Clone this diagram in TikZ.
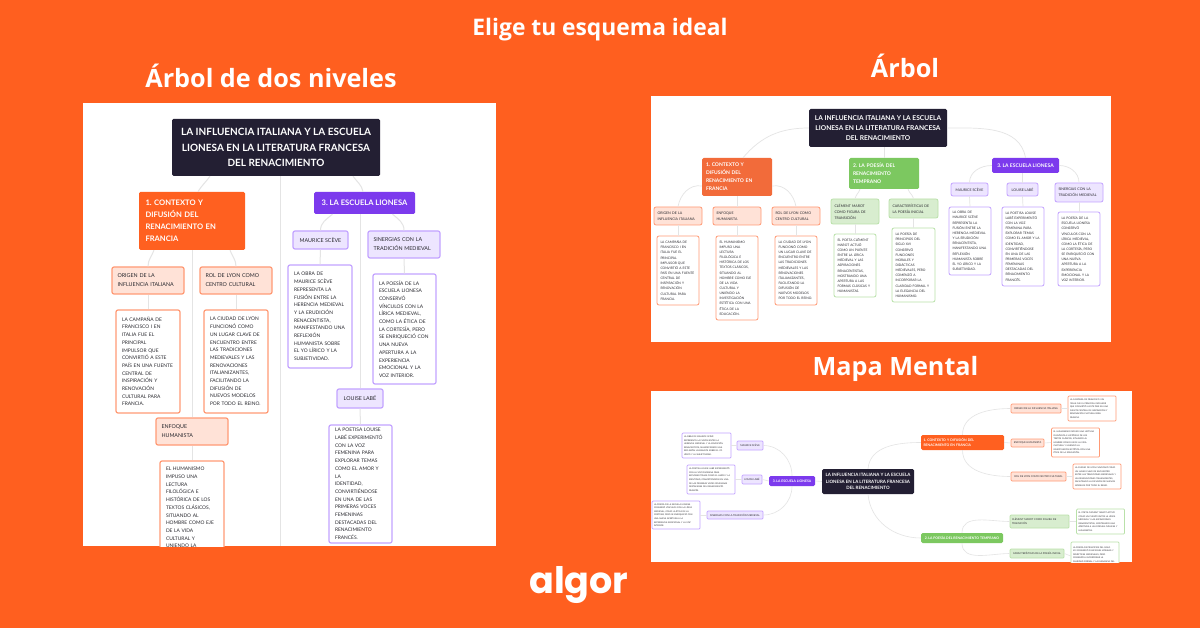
\documentclass[tikz,border=0pt]{standalone}
\usepackage{fontspec}
\setmainfont{Lato}
\newfontfamily\logofont{Poppins}
\newfontfamily\titlefont{Open Sans}
\usetikzlibrary{positioning,calc}
\definecolor{algorbg}{HTML}{FF5F1F}
\definecolor{rootdark}{HTML}{231F33}
\definecolor{orangemain}{HTML}{FF6020}
\definecolor{orangesoft}{HTML}{F26B3A}
\definecolor{orangefill}{HTML}{FFE2D7}
\definecolor{orangeline}{HTML}{FF9A75}
\definecolor{greenmain}{HTML}{7CC860}
\definecolor{greenfill}{HTML}{D8EDCF}
\definecolor{greenline}{HTML}{B9E1A9}
\definecolor{purplemain}{HTML}{7C3AED}
\definecolor{purplefill}{HTML}{EDE5FF}
\definecolor{purpleline}{HTML}{C3A3FF}
\definecolor{linkgrey}{HTML}{E4E4E4}
\definecolor{leaftext}{HTML}{2A2A30}
\frenchspacing

\begin{document}
\begin{tikzpicture}[
    x=1pt, y=-1pt,
    title/.style={text=white, font=\titlefont\bfseries\fontsize{25.2}{29}\selectfont, inner sep=0, anchor=base},
    panel/.style={fill=white, draw=none},
    rootbox/.style={fill=rootdark, text=white, rootsize, align=center, inner sep=0, rounded corners=1.5pt},
    mainbox/.style={text=white, mainsize, align=left, inner sep=0, rounded corners=1.5pt},
    subbox/.style={text=leaftext, subsize, align=left, inner sep=0, line width=1.2pt, rounded corners=2pt},
    leafbox/.style={text=leaftext, fill=white, leafsize, align=left, inner sep=0, line width=1.2pt, rounded corners=2pt},
    omain/.style={mainbox, fill=orangemain},
    gmain/.style={mainbox, fill=greenmain},
    pmain/.style={mainbox, fill=purplemain},
    osub/.style={subbox, draw=orangeline, fill=orangefill},
    gsub/.style={subbox, draw=greenline, fill=greenfill},
    psub/.style={subbox, draw=purpleline, fill=purplefill},
    oleaf/.style={leafbox, draw=orangeline},
    gleaf/.style={leafbox, draw=greenline},
    pleaf/.style={leafbox, draw=purpleline},
    link/.style={draw=linkgrey, line width=1pt},
]
\useasboundingbox (0,0) rectangle (1200,628);
\fill[algorbg] (0,0) rectangle (1200,628);

\node[title, font=\titlefont\bfseries\fontsize{22.8}{26}\selectfont] (heading) at (600,35.7) {Elige tu esquema ideal};
\node[title] (titleA) at (271,87.7) {Árbol de dos niveles};
\node[title] (titleB) at (905,78) {Árbol};
\node[title] (titleC) at (895.5,375) {Mapa Mental};
\node[text=white, font=\logofont\bfseries\fontsize{36.5}{40}\selectfont, inner sep=0] (logo) at (579,585) {algor};

% two level tree
\begin{scope}[
    rootsize/.style={font=\fontsize{10}{15.3}\selectfont\bfseries},
    mainsize/.style={font=\fontsize{7.6}{12}\selectfont\bfseries},
    subsize/.style={font=\fontsize{5.35}{9}\selectfont},
    leafsize/.style={font=\fontsize{4.9}{7.7}\selectfont},
    mainbox/.append style={inner xsep=6.5pt},
    subbox/.append style={inner xsep=5.5pt},
    leafbox/.append style={inner xsep=6pt},
]
\fill[panel] (83,103) rectangle (496,546);
\clip (83,103) rectangle (496,546);
\coordinate (aEnd) at (280,546);
\node[rootbox, minimum width=208pt, minimum height=57pt] (aRoot) at (276,147.5) {LA INFLUENCIA ITALIANA Y LA ESCUELA\\LIONESA EN LA LITERATURA FRANCESA\\DEL RENACIMIENTO};
\node[omain, text width=93pt, minimum height=58pt] (aOne) at (192,221) {1. CONTEXTO Y\\DIFUSIÓN DEL\\RENACIMIENTO EN\\FRANCIA};
\node[pmain, minimum width=101pt, minimum height=22pt, align=center] (aThree) at (364.5,203) {3. LA ESCUELA LIONESA};
\node[osub, text width=61pt, minimum height=27pt] (aOrigen) at (148,280.5) {ORIGEN DE LA\\INFLUENCIA ITALIANA};
\node[osub, text width=61pt, minimum height=27pt] (aRol) at (236,280.5) {ROL DE LYON COMO\\CENTRO CULTURAL};
\node[osub, text width=61pt, minimum height=27pt] (aEnfoque) at (192,431.5) {ENFOQUE\\HUMANISTA};
\node[oleaf, text width=52pt, minimum height=103pt] (aCampana) at (148,361.5) {LA CAMPAÑA DE\\FRANCISCO I EN\\ITALIA FUE EL\\PRINCIPAL\\IMPULSOR QUE\\CONVIRTIÓ A ESTE\\PAÍS EN UNA FUENTE\\CENTRAL DE\\INSPIRACIÓN Y\\RENOVACIÓN\\CULTURAL PARA\\FRANCIA.};
\node[oleaf, text width=52pt, minimum height=103pt] (aCiudad) at (236,361.5) {LA CIUDAD DE LYON\\FUNCIONÓ COMO\\UN LUGAR CLAVE DE\\ENCUENTRO ENTRE\\LAS TRADICIONES\\MEDIEVALES Y LAS\\RENOVACIONES\\ITALIANIZANTES,\\FACILITANDO LA\\DIFUSIÓN DE\\NUEVOS MODELOS\\POR TODO EL REINO.};
\node[oleaf, text width=52pt, minimum height=124pt] (aHumanismo) at (192,523) {EL HUMANISMO\\IMPUSO UNA\\LECTURA\\FILOLÓGICA E\\HISTÓRICA DE LOS\\TEXTOS CLÁSICOS,\\SITUANDO AL\\HOMBRE COMO EJE\\DE LA VIDA\\CULTURAL Y\\UNIENDO LA\\INVESTIGACIÓN\\ESTÉTICA CON UNA\\ÉTICA DE LA\\EDUCACIÓN.};
\node[psub, minimum width=55pt, minimum height=18pt, align=center] (aMaurice) at (320.5,240) {MAURICE SCÈVE};
\node[psub, text width=61pt, minimum height=27pt] (aSinergias) at (404,244.5) {SINERGIAS CON LA\\TRADICIÓN MEDIEVAL};
\node[psub, minimum width=46pt, minimum height=19pt, align=center] (aLouise) at (360,398.5) {LOUISE LABÉ};
\node[pleaf, text width=52pt, minimum height=103pt] (aObra) at (320,316.5) {LA OBRA DE\\MAURICE SCÈVE\\REPRESENTA LA\\FUSIÓN ENTRE LA\\HERENCIA MEDIEVAL\\Y LA ERUDICIÓN\\RENACENTISTA,\\MANIFESTANDO UNA\\REFLEXIÓN\\HUMANISTA SOBRE\\EL YO LÍRICO Y LA\\SUBJETIVIDAD.};
\node[pleaf, text width=51pt, minimum height=110pt] (aPoesia) at (404.5,329) {LA POESÍA DE LA\\ESCUELA LIONESA\\CONSERVÓ\\VÍNCULOS CON LA\\LÍRICA MEDIEVAL,\\COMO LA ÉTICA DE\\LA CORTESÍA, PERO\\SE ENRIQUECIÓ CON\\UNA NUEVA\\APERTURA A LA\\EXPERIENCIA\\EMOCIONAL Y LA\\VOZ INTERIOR.};
\node[pleaf, text width=51pt, minimum height=118pt] (aPoetisa) at (360.5,484) {LA POETISA LOUISE\\LABÉ EXPERIMENTÓ\\CON LA VOZ\\FEMENINA PARA\\EXPLORAR TEMAS\\COMO EL AMOR Y LA\\IDENTIDAD,\\CONVIRTIÉNDOSE\\EN UNA DE LAS\\PRIMERAS VOCES\\FEMENINAS\\DESTACADAS DEL\\RENACIMIENTO\\FRANCÉS.};
\draw[link] ([xshift=-66pt]aRoot.south) to[out=-125,in=60] ([xshift=6pt]aOne.north);
\draw[link] ([xshift=77pt]aRoot.south) to[out=-55,in=100] ([xshift=-1.5pt]aThree.north);
\draw[link] (aRoot.south -| aEnd) -- (aEnd);
\draw[link] ([xshift=-38pt]aOne.south) to[out=-110,in=90] (aOrigen.north);
\draw[link] ([xshift=38pt]aOne.south) to[out=-70,in=90] (aRol.north);
\draw[link] (aOne.south) -- (aEnfoque.north);
\draw[link] (aOrigen.south) -- (aCampana.north);
\draw[link] (aRol.south) -- (aCiudad.north);
\draw[link] (aEnfoque.south) -- (aHumanismo.north);
\draw[link] ([xshift=-32pt]aThree.south) to[out=-140,in=90] (aMaurice.north);
\draw[link] ([xshift=28pt]aThree.south) to[out=-40,in=90] (aSinergias.north);
\draw[link] (aThree.south -| aLouise) -- (aLouise.north);
\draw[link] (aMaurice.south) -- (aObra.north);
\draw[link] (aSinergias.south) -- (aPoesia.north);
\draw[link] (aLouise.south) -- (aPoetisa.north);
\end{scope}

% tree
\begin{scope}[
    rootsize/.style={font=\fontsize{6.65}{10.3}\selectfont\bfseries},
    mainsize/.style={font=\fontsize{5}{8}\selectfont\bfseries},
    subsize/.style={font=\fontsize{3.55}{5.9}\selectfont},
    leafsize/.style={font=\fontsize{3.26}{5.15}\selectfont},
    mainbox/.append style={inner xsep=4pt},
    subbox/.append style={line width=.8pt, inner xsep=3.5pt},
    leafbox/.append style={line width=.8pt, inner xsep=3.5pt},
    link/.append style={line width=.7pt},
]
\fill[panel] (651,96) rectangle (1111,342);
\node[rootbox, minimum width=138pt, minimum height=38pt] (bRoot) at (878,128) {LA INFLUENCIA ITALIANA Y LA ESCUELA\\LIONESA EN LA LITERATURA FRANCESA\\DEL RENACIMIENTO};
\node[omain, fill=orangesoft, text width=62pt, minimum height=38pt] (bOne) at (737,177) {1. CONTEXTO Y\\DIFUSIÓN DEL\\RENACIMIENTO EN\\FRANCIA};
\node[gmain, text width=62pt, minimum height=31pt] (bTwo) at (884,173.5) {2. LA POESÍA DEL\\RENACIMIENTO\\TEMPRANO};
\node[pmain, minimum width=67pt, minimum height=15pt, align=center] (bThree) at (1025.5,165.5) {3. LA ESCUELA LIONESA};
\node[osub, text width=41pt, minimum height=18pt] (bOrigen) at (678,216) {ORIGEN DE LA\\INFLUENCIA ITALIANA};
\node[osub, text width=41pt, minimum height=18pt] (bEnfoque) at (737,216) {ENFOQUE\\HUMANISTA};
\node[osub, text width=41pt, minimum height=18pt] (bRol) at (796,216) {ROL DE LYON COMO\\CENTRO CULTURAL};
\node[oleaf, text width=35pt, minimum height=69pt] (bCampana) at (678,270.5) {LA CAMPAÑA DE\\FRANCISCO I EN\\ITALIA FUE EL\\PRINCIPAL\\IMPULSOR QUE\\CONVIRTIÓ A ESTE\\PAÍS EN UNA FUENTE\\CENTRAL DE\\INSPIRACIÓN Y\\RENOVACIÓN\\CULTURAL PARA\\FRANCIA.};
\node[oleaf, text width=35pt, minimum height=84pt] (bHumanismo) at (737,278) {EL HUMANISMO\\IMPUSO UNA\\LECTURA\\FILOLÓGICA E\\HISTÓRICA DE LOS\\TEXTOS CLÁSICOS,\\SITUANDO AL\\HOMBRE COMO EJE\\DE LA VIDA\\CULTURAL Y\\UNIENDO LA\\INVESTIGACIÓN\\ESTÉTICA CON UNA\\ÉTICA DE LA\\EDUCACIÓN.};
\node[oleaf, text width=35pt, minimum height=69pt] (bCiudad) at (796,270.5) {LA CIUDAD DE LYON\\FUNCIONÓ COMO\\UN LUGAR CLAVE DE\\ENCUENTRO ENTRE\\LAS TRADICIONES\\MEDIEVALES Y LAS\\RENOVACIONES\\ITALIANIZANTES,\\FACILITANDO LA\\DIFUSIÓN DE\\NUEVOS MODELOS\\POR TODO EL REINO.};
\node[gsub, text width=41pt, minimum height=25pt] (bClement) at (855,211.5) {CLÉMENT MAROT\\COMO FIGURA DE\\TRANSICIÓN};
\node[gsub, text width=42pt, minimum height=19pt] (bCaract) at (913.5,208.5) {CARACTERÍSTICAS DE\\LA POESÍA INICIAL};
\node[gleaf, text width=35pt, minimum height=63pt] (bPoeta) at (855,265.5) {EL POETA CLÉMENT\\MAROT ACTUÓ\\COMO UN PUENTE\\ENTRE LA LÍRICA\\MEDIEVAL Y LAS\\ASPIRACIONES\\RENACENTISTAS,\\MOSTRANDO UNA\\APERTURA A LAS\\FORMAS CLÁSICAS Y\\HUMANISTAS.};
\node[gleaf, text width=36pt, minimum height=74pt] (bInicial) at (913.5,265) {LA POESÍA DE\\PRINCIPIOS DEL\\SIGLO XVI\\CONSERVÓ\\FUNCIONES\\MORALES Y\\DIDÁCTICAS\\MEDIEVALES, PERO\\COMENZÓ A\\INCORPORAR LA\\CLARIDAD FORMAL Y\\LA ELEGANCIA DEL\\HUMANISMO.};
\node[psub, minimum width=37pt, minimum height=13pt, align=center] (bMaurice) at (969.5,189.5) {MAURICE SCÈVE};
\node[psub, minimum width=31pt, minimum height=13pt, align=center] (bLouise) at (1022.5,189.5) {LOUISE LABÉ};
\node[psub, text width=41pt, minimum height=19pt] (bSinergias) at (1079,192.5) {SINERGIAS CON LA\\TRADICIÓN MEDIEVAL};
\node[pleaf, text width=35pt, minimum height=68pt] (bObra) at (970,241) {LA OBRA DE\\MAURICE SCÈVE\\REPRESENTA LA\\FUSIÓN ENTRE LA\\HERENCIA MEDIEVAL\\Y LA ERUDICIÓN\\RENACENTISTA,\\MANIFESTANDO UNA\\REFLEXIÓN\\HUMANISTA SOBRE\\EL YO LÍRICO Y LA\\SUBJETIVIDAD.};
\node[pleaf, text width=35pt, minimum height=79pt] (bPoetisa) at (1023,246.5) {LA POETISA LOUISE\\LABÉ EXPERIMENTÓ\\CON LA VOZ\\FEMENINA PARA\\EXPLORAR TEMAS\\COMO EL AMOR Y LA\\IDENTIDAD,\\CONVIRTIÉNDOSE\\EN UNA DE LAS\\PRIMERAS VOCES\\FEMENINAS\\DESTACADAS DEL\\RENACIMIENTO\\FRANCÉS.};
\node[pleaf, text width=35pt, minimum height=74pt] (bPoesia) at (1079,249) {LA POESÍA DE LA\\ESCUELA LIONESA\\CONSERVÓ\\VÍNCULOS CON LA\\LÍRICA MEDIEVAL,\\COMO LA ÉTICA DE\\LA CORTESÍA, PERO\\SE ENRIQUECIÓ CON\\UNA NUEVA\\APERTURA A LA\\EXPERIENCIA\\EMOCIONAL Y LA\\VOZ INTERIOR.};
\draw[link] (bRoot.west) to[out=180,in=50] ([xshift=6pt]bOne.north);
\draw[link] (bRoot.south -| bTwo) -- (bTwo.north);
\draw[link] (bRoot.east) to[out=0,in=100] (bThree.north);
\draw[link] ([yshift=-9pt]bOne.west) to[out=170,in=80] (bOrigen.north);
\draw[link] (bOne.south) -- (bEnfoque.north);
\draw[link] ([yshift=-9pt]bOne.east) to[out=10,in=100] (bRol.north);
\draw[link] (bOrigen.south) -- (bCampana.north);
\draw[link] (bEnfoque.south) -- (bHumanismo.north);
\draw[link] (bRol.south) -- (bCiudad.north);
\draw[link] ([xshift=-24pt]bTwo.south) to[out=-110,in=75] (bClement.north);
\draw[link] ([xshift=24pt]bTwo.south) to[out=-70,in=105] (bCaract.north);
\draw[link] (bClement.south) -- (bPoeta.north);
\draw[link] (bCaract.south) -- (bInicial.north);
\draw[link] (bThree.west) to[out=180,in=90] (bMaurice.north);
\draw[link] (bThree.south -| bLouise) -- (bLouise.north);
\draw[link] (bThree.east) to[out=0,in=90] (bSinergias.north);
\draw[link] (bMaurice.south) -- (bObra.north);
\draw[link] (bLouise.south) -- (bPoetisa.north);
\draw[link] (bSinergias.south) -- (bPoesia.north);
\end{scope}

% mind map
\begin{scope}[
    rootsize/.style={font=\fontsize{4.47}{6.8}\selectfont\bfseries},
    mainsize/.style={font=\fontsize{3.4}{5.4}\selectfont\bfseries},
    subsize/.style={font=\fontsize{2.5}{3.9}\selectfont},
    leafsize/.style={font=\fontsize{2.1}{3.55}\selectfont},
    mainbox/.append style={inner xsep=2.5pt},
    subbox/.append style={line width=.7pt, rounded corners=1pt, inner xsep=2pt},
    leafbox/.append style={line width=.7pt, rounded corners=1pt, inner xsep=2pt},
    link/.append style={line width=.6pt},
]
\fill[panel] (651,391) rectangle (1132,562);
\clip (651,391) rectangle (1132,562);
\node[rootbox, minimum width=92pt, minimum height=25pt] (cRoot) at (868,481.5) {LA INFLUENCIA ITALIANA Y LA ESCUELA\\LIONESA EN LA LITERATURA FRANCESA\\DEL RENACIMIENTO};
\node[pmain, minimum width=46pt, minimum height=10pt, align=center] (cThree) at (792,481) {3. LA ESCUELA LIONESA};
\node[omain, text width=78pt, minimum height=15pt] (cOne) at (962.5,442.5) {1. CONTEXTO Y DIFUSIÓN DEL\\RENACIMIENTO EN FRANCIA};
\node[gmain, minimum width=82pt, minimum height=10pt, align=center] (cTwo) at (962,538) {2. LA POESÍA DEL RENACIMIENTO TEMPRANO};
\node[psub, minimum width=26pt, minimum height=9pt, align=center] (cMaurice) at (750,445.5) {MAURICE SCÈVE};
\node[psub, minimum width=20pt, minimum height=9pt, align=center] (cLouise) at (752,479.5) {LOUISE LABÉ};
\node[psub, minimum width=56pt, minimum height=8pt, align=center] (cSinergias) at (735,515) {SINERGIAS CON LA TRADICIÓN MEDIEVAL};
\node[pleaf, text width=45pt, minimum height=25pt] (cObra) at (706.5,445.5) {LA OBRA DE MAURICE SCÈVE\\REPRESENTA LA FUSIÓN ENTRE LA\\HERENCIA MEDIEVAL Y LA ERUDICIÓN\\RENACENTISTA, MANIFESTANDO UNA\\REFLEXIÓN HUMANISTA SOBRE EL YO\\LÍRICO Y LA SUBJETIVIDAD.};
\node[pleaf, text width=44pt, minimum height=29pt] (cPoetisa) at (711,479.5) {LA POETISA LOUISE LABÉ EXPERIMENTÓ\\CON LA VOZ FEMENINA PARA\\EXPLORAR TEMAS COMO EL AMOR Y LA\\IDENTIDAD, CONVIRTIÉNDOSE EN UNA\\DE LAS PRIMERAS VOCES FEMENINAS\\DESTACADAS DEL RENACIMIENTO\\FRANCÉS.};
\node[pleaf, text width=44pt, minimum height=28pt] (cPoesia) at (676,515) {LA POESÍA DE LA ESCUELA LIONESA\\CONSERVÓ VÍNCULOS CON LA LÍRICA\\MEDIEVAL, COMO LA ÉTICA DE LA\\CORTESÍA, PERO SE ENRIQUECIÓ CON\\UNA NUEVA APERTURA A LA\\EXPERIENCIA EMOCIONAL Y LA VOZ\\INTERIOR.};
\node[osub, minimum width=50pt, minimum height=9pt, align=center] (cOrigen) at (1036,408.5) {ORIGEN DE LA INFLUENCIA ITALIANA};
\node[osub, minimum width=33pt, minimum height=8pt, align=center] (cEnfoque) at (1027.5,443) {ENFOQUE HUMANISTA};
\node[osub, minimum width=55pt, minimum height=9pt, align=center] (cRol) at (1038.5,476.5) {ROL DE LYON COMO CENTRO CULTURAL};
\node[oleaf, text width=44pt, minimum height=25pt] (cCampana) at (1092,408.5) {LA CAMPAÑA DE FRANCISCO I EN\\ITALIA FUE EL PRINCIPAL IMPULSOR\\QUE CONVIRTIÓ A ESTE PAÍS EN UNA\\FUENTE CENTRAL DE INSPIRACIÓN Y\\RENOVACIÓN CULTURAL PARA\\FRANCIA.};
\node[oleaf, text width=44pt, minimum height=29pt] (cHumanismo) at (1075.5,442.5) {EL HUMANISMO IMPUSO UNA LECTURA\\FILOLÓGICA E HISTÓRICA DE LOS\\TEXTOS CLÁSICOS, SITUANDO AL\\HOMBRE COMO EJE DE LA VIDA\\CULTURAL Y UNIENDO LA\\INVESTIGACIÓN ESTÉTICA CON UNA\\ÉTICA DE LA EDUCACIÓN.};
\node[oleaf, text width=44pt, minimum height=25pt] (cCiudad) at (1097,476.5) {LA CIUDAD DE LYON FUNCIONÓ COMO\\UN LUGAR CLAVE DE ENCUENTRO\\ENTRE LAS TRADICIONES MEDIEVALES Y\\LAS RENOVACIONES ITALIANIZANTES,\\FACILITANDO LA DIFUSIÓN DE NUEVOS\\MODELOS POR TODO EL REINO.};
\node[gsub, text width=55pt, minimum height=13pt] (cClement) at (1039.5,521.5) {CLÉMENT MAROT COMO FIGURA DE\\TRANSICIÓN};
\node[gsub, minimum width=54pt, minimum height=9pt, align=center] (cCaract) at (1037,553.5) {CARACTERÍSTICAS DE LA POESÍA INICIAL};
\node[gleaf, text width=44pt, minimum height=25pt] (cPoeta) at (1100.5,521.5) {EL POETA CLÉMENT MAROT ACTUÓ\\COMO UN PUENTE ENTRE LA LÍRICA\\MEDIEVAL Y LAS ASPIRACIONES\\RENACENTISTAS, MOSTRANDO UNA\\APERTURA A LAS FORMAS CLÁSICAS Y\\HUMANISTAS.};
\node[gleaf, text width=44pt, minimum height=28pt] (cInicial) at (1095,556) {LA POESÍA DE PRINCIPIOS DEL SIGLO\\XVI CONSERVÓ FUNCIONES MORALES Y\\DIDÁCTICAS MEDIEVALES, PERO\\COMENZÓ A INCORPORAR LA\\CLARIDAD FORMAL Y LA ELEGANCIA DEL\\HUMANISMO.};
\draw[link] (cRoot.west) -- (cThree.east);
\draw[link] (cRoot.north) to[out=85,in=180] (cOne.west);
\draw[link] (cRoot.south) to[out=-85,in=180] (cTwo.west);
\draw[link] (cThree.north) to[out=90,in=0] (cMaurice.east);
\draw[link] (cThree.west) -- (cLouise.east);
\draw[link] (cThree.south) to[out=-90,in=0] (cSinergias.east);
\draw[link] (cMaurice.west) -- (cObra.east);
\draw[link] (cLouise.west) -- (cPoetisa.east);
\draw[link] (cSinergias.west) -- (cPoesia.east);
\draw[link] (cOne.north) to[out=90,in=180] (cOrigen.west);
\draw[link] (cOne.east) -- (cEnfoque.west);
\draw[link] (cOne.south) to[out=-90,in=180] (cRol.west);
\draw[link] (cOrigen.east) -- (cCampana.west);
\draw[link] (cEnfoque.east) -- (cHumanismo.west);
\draw[link] (cRol.east) -- (cCiudad.west);
\draw[link] (cTwo.north) to[out=90,in=180] (cClement.west);
\draw[link] (cTwo.south) to[out=-90,in=180] (cCaract.west);
\draw[link] (cClement.east) -- (cPoeta.west);
\draw[link] (cCaract.east) -- (cInicial.west);
\end{scope}
\end{tikzpicture}
\end{document}
